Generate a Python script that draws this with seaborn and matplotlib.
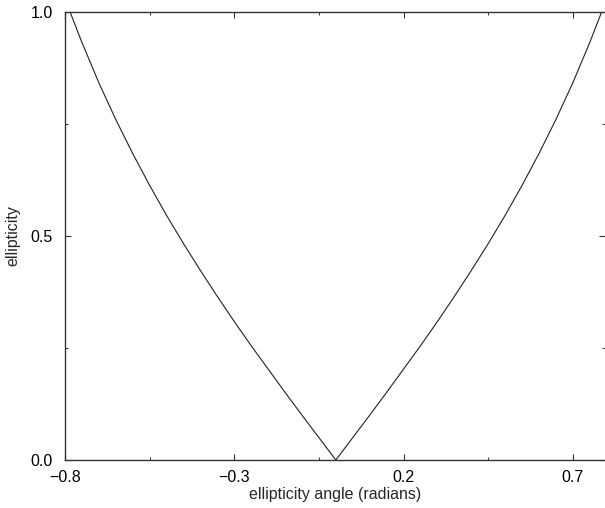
import matplotlib
matplotlib.use("Agg")
import matplotlib.pyplot as plt
from matplotlib.ticker import FixedLocator
import pandas as pd
import seaborn as sns

# values (left branch mirrors the right one)
angle = [-0.785, -0.75, -0.70, -0.65, -0.60, -0.55, -0.50, -0.45, -0.40, -0.35, -0.30,
         -0.25, -0.20, -0.15, -0.10, -0.05, 0.0,
         0.05, 0.10, 0.15, 0.20, 0.25, 0.30, 0.35, 0.40, 0.45, 0.50, 0.55, 0.60,
         0.65, 0.70, 0.75, 0.785]
ellipticity = [1.000, 0.932, 0.842, 0.760, 0.684, 0.613, 0.546, 0.483, 0.423, 0.365, 0.309,
               0.255, 0.203, 0.151, 0.100, 0.050, 0.0,
               0.050, 0.100, 0.151, 0.203, 0.255, 0.309, 0.365, 0.423, 0.483, 0.546, 0.613, 0.684,
               0.760, 0.842, 0.932, 1.000]
x_ticks = [-0.8, -0.3, 0.2, 0.7]
x_minor = [-0.55, -0.05, 0.45]
y_ticks = [0.0, 0.5, 1.0]
y_minor = [0.25, 0.75]

df = pd.DataFrame({"angle": angle, "ellipticity": ellipticity})

sns.set_style("ticks")
plt.rcParams["font.family"] = ["Liberation Sans", "DejaVu Sans"]

fig = plt.figure(figsize=(6.05, 5.08), dpi=100)
ax = fig.add_axes([65 / 605, 1 - 460 / 508, 540 / 605, 448 / 508])

sns.lineplot(data=df, x="angle", y="ellipticity", color="#222222", linewidth=0.8,
             sort=False, ax=ax)

ax.set_xlim(-0.8, 0.795)
ax.set_ylim(0.0, 1.0)
ax.xaxis.set_major_locator(FixedLocator(x_ticks))
ax.xaxis.set_minor_locator(FixedLocator(x_minor))
ax.yaxis.set_major_locator(FixedLocator(y_ticks))
ax.yaxis.set_minor_locator(FixedLocator(y_minor))
ax.set_xticklabels(["\u22120.8", "\u22120.3", "0.2", "0.7"])
ax.set_yticklabels(["0.0", "0.5", "1.0"])

ax.tick_params(which="both", direction="in", top=True, right=True, colors="#333333",
               labelcolor="black", labelsize=11.5)
ax.tick_params(axis="x", which="major", length=4, width=0.8, pad=7)
ax.tick_params(axis="y", which="major", length=4, width=0.8, pad=9)
ax.tick_params(which="minor", length=2.5, width=0.7)

for side in ["left", "bottom", "top"]:
    ax.spines[side].set_color("#333333")
    ax.spines[side].set_linewidth(1.0)
ax.spines["right"].set_visible(False)

ax.set_xlabel("ellipticity angle (radians)", fontsize=11.5, va="center")
ax.set_ylabel("ellipticity", fontsize=11.5, va="center")
ax.xaxis.set_label_coords(0.5, -0.076)
ax.yaxis.set_label_coords(-0.096, 0.5)

fig.savefig("out.png", dpi=100)
plt.close(fig)
